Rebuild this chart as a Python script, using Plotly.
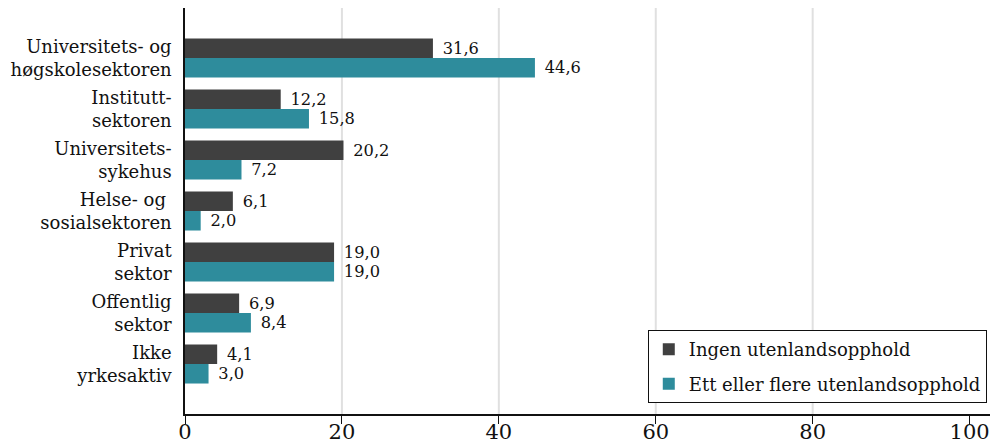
import plotly.graph_objects as go

categories = [
    "Universitets- og<br>høgskolesektoren",
    "Institutt-<br>sektoren",
    "Universitets-<br>sykehus",
    "Helse- og <br>sosialsektoren",
    "Privat<br>sektor",
    "Offentlig<br>sektor",
    "Ikke<br>yrkesaktiv",
]
ingen = [31.6, 12.2, 20.2, 6.1, 19.0, 6.9, 4.1]
flere = [44.6, 15.8, 7.2, 2.0, 19.0, 8.4, 3.0]
series_names = ["Ingen utenlandsopphold", "Ett eller flere utenlandsopphold"]
colors = ["#404040", "#2E8C9C"]
x_ticks = [0, 20, 40, 60, 80, 100]
grid_vals = [20, 40, 60, 80]

FONT = "DejaVu Serif"

def fmt(v):
    return " \u200a" + f"{v:.1f}".replace(".", ",")

fig = go.Figure()
for i, (name, vals, col) in enumerate(zip(series_names, [ingen, flere], colors)):
    fig.add_trace(go.Bar(
        y=categories, x=vals, orientation="h", name=name,
        marker=dict(color=col, line=dict(width=0)),
        text=[fmt(v) for v in vals], textposition="outside",
        textfont=dict(family=FONT, size=20, color="#111111"),
        cliponaxis=False, showlegend=False, legendgroup=f"g{i}",
    ))
    fig.add_trace(go.Scatter(
        x=[None], y=[None], mode="markers", name=name, legendgroup=f"g{i}",
        marker=dict(symbol="square", size=20, color=col),
    ))

for g in grid_vals:
    fig.add_vline(x=g, line=dict(color="#E0E0E0", width=2), layer="below")

fig.update_layout(
    width=994, height=445,
    margin=dict(l=185, r=4, t=8, b=31),
    paper_bgcolor="white", plot_bgcolor="white",
    barmode="group", bargap=0.235, bargroupgap=0,
    font=dict(family=FONT, size=18, color="#111111"),
    showlegend=True,
    legend=dict(
        x=0.996, y=0.027, xanchor="right", yanchor="bottom",
        bordercolor="#111111", borderwidth=1, bgcolor="white",
        font=dict(family=FONT, size=18, color="#111111"),
        tracegroupgap=8, itemsizing="constant",
    ),
)
fig.update_xaxes(
    range=[0, 102.6], tickvals=x_ticks, showgrid=False, zeroline=False,
    showline=True, linecolor="#111111", linewidth=1.5,
    ticks="outside", ticklen=8, tickcolor="#111111",
    tickfont=dict(family=FONT, size=21, color="#111111"),
    ticklabelstandoff=-10,
    automargin=False,
)
fig.update_yaxes(
    type="category", categoryorder="array", categoryarray=categories,
    autorange=False, range=[6.98, -0.98],
    showgrid=False, zeroline=False,
    showline=True, linecolor="#111111", linewidth=1.5, ticks="",
    ticklabelstandoff=8, automargin=False,
    tickfont=dict(family=FONT, size=18, color="#111111"),
)

fig.write_html("out.html", config={"displayModeBar": False},
               post_script="document.body.style.margin='0';")
